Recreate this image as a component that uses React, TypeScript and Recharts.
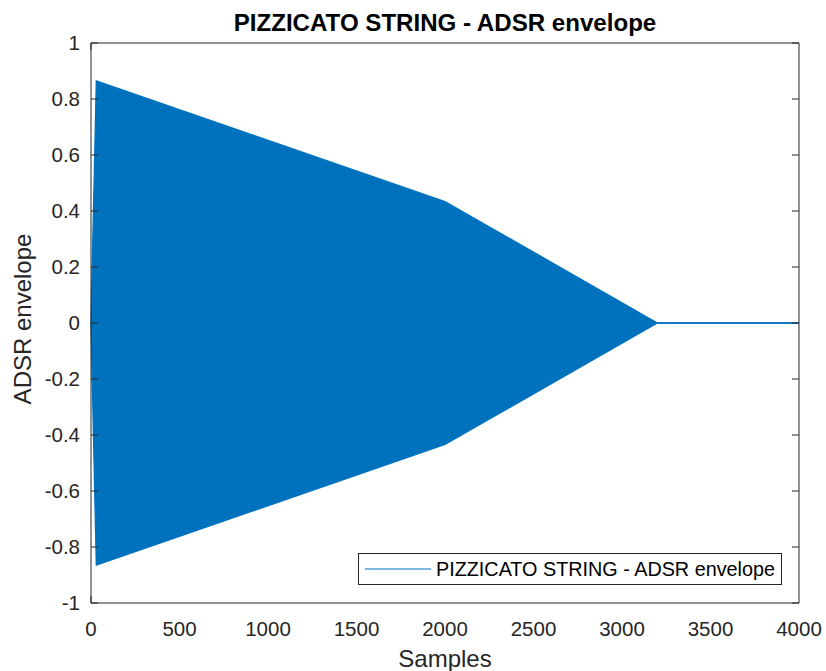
import React from 'react';
import { ComposedChart, Area, XAxis, YAxis, Legend } from 'recharts';

const SERIES_NAME = 'PIZZICATO STRING - ADSR envelope';
const TITLE = 'PIZZICATO STRING - ADSR envelope';
const X_LABEL = 'Samples';
const Y_LABEL = 'ADSR envelope';

// envelope of the dense oscillating signal (sample index, upper and lower extremes)
const SAMPLES = [0, 30, 2000, 3200, 4000];
const UPPER = [0, 0.865, 0.434, 0, 0];
const LOWER = [0, -0.865, -0.434, 0, 0];

const X_TICKS = [0, 500, 1000, 1500, 2000, 2500, 3000, 3500, 4000];
const Y_TICKS = [-1, -0.8, -0.6, -0.4, -0.2, 0, 0.2, 0.4, 0.6, 0.8, 1];

const data = SAMPLES.map((s, i) => ({ x: s, env: [LOWER[i], UPPER[i]] }));

const BLUE = '#0072BD';
const AXIS = '#262626';
const FONT = '"Liberation Sans", Arial, Helvetica, sans-serif';

const NoLabel = () => <g />;

const renderLegend = (props: any) => {
  const item = (props.payload && props.payload[0]) || { value: SERIES_NAME, color: BLUE };
  return (
    <div
      style={{
        width: 424,
        height: 32,
        boxSizing: 'border-box',
        border: `1px solid ${AXIS}`,
        background: '#fff',
        display: 'flex',
        alignItems: 'center',
        fontFamily: FONT,
        fontSize: 19.8,
        color: '#000',
      }}
    >
      <svg width={72} height={30} style={{ flex: 'none' }}>
        <line x1={6} x2={72} y1={15} y2={15} stroke={BLUE} strokeWidth={1.2} />
      </svg>
      <span style={{ marginLeft: 5, whiteSpace: 'nowrap' }}>{item.value}</span>
    </div>
  );
};

export default function App() {
  return (
    <div style={{ position: 'absolute', left: 0, top: 0, width: 826, height: 671, background: '#fff' }}>
      <ComposedChart
        width={826}
        height={671}
        data={data}
        margin={{ top: 43, right: 27, bottom: 28, left: 31 }}
        style={{ fontFamily: FONT }}
      >
        <XAxis
          xAxisId="b"
          dataKey="x"
          type="number"
          domain={[0, 4000]}
          ticks={X_TICKS}
          interval={0}
          height={40}
          tickLine={false}
          tickSize={0}
          tickMargin={18}
          axisLine={{ stroke: AXIS, strokeWidth: 1 }}
          tick={{ fill: AXIS, fontSize: 20.5, fontFamily: FONT }}
        />
        <XAxis
          xAxisId="bm"
          type="number"
          domain={[0, 4000]}
          allowDataOverflow
          ticks={X_TICKS}
          interval={0}
          orientation="bottom"
          mirror
          tick={NoLabel}
          tickSize={7}
          tickLine={{ stroke: AXIS, strokeWidth: 1 }}
          axisLine={false}
        />
        <XAxis
          xAxisId="t"
          type="number"
          domain={[0, 4000]}
          allowDataOverflow
          ticks={X_TICKS}
          interval={0}
          orientation="top"
          mirror
          tick={NoLabel}
          tickSize={7}
          tickLine={{ stroke: AXIS, strokeWidth: 1 }}
          axisLine={{ stroke: AXIS, strokeWidth: 1 }}
        />
        <YAxis
          yAxisId="l"
          type="number"
          domain={[-1, 1]}
          ticks={Y_TICKS}
          interval={0}
          width={60}
          tickLine={false}
          tickSize={0}
          tickMargin={11}
          axisLine={{ stroke: AXIS, strokeWidth: 1 }}
          tick={{ fill: AXIS, fontSize: 20.5, fontFamily: FONT }}
          tickFormatter={(v: number) => String(v)}
        />
        <YAxis
          yAxisId="lm"
          type="number"
          domain={[-1, 1]}
          allowDataOverflow
          ticks={Y_TICKS}
          interval={0}
          orientation="left"
          mirror
          tick={NoLabel}
          tickSize={7}
          tickLine={{ stroke: AXIS, strokeWidth: 1 }}
          axisLine={false}
        />
        <YAxis
          yAxisId="r"
          type="number"
          domain={[-1, 1]}
          allowDataOverflow
          ticks={Y_TICKS}
          interval={0}
          orientation="right"
          mirror
          tick={NoLabel}
          tickSize={7}
          tickLine={{ stroke: AXIS, strokeWidth: 1 }}
          axisLine={{ stroke: AXIS, strokeWidth: 1 }}
        />
        <Area
          xAxisId="b"
          yAxisId="l"
          dataKey="env"
          name={SERIES_NAME}
          type="linear"
          fill={BLUE}
          fillOpacity={1}
          stroke={BLUE}
          strokeWidth={1.3}
          dot={false}
          activeDot={false}
          isAnimationActive={false}
        />
        <Legend
          layout="vertical"
          align="center"
          verticalAlign="middle"
          content={renderLegend}
          wrapperStyle={{ position: 'absolute', left: 358, top: 553, width: 424, height: 32 }}
        />
      </ComposedChart>
      <svg
        width={826}
        height={671}
        style={{ position: 'absolute', left: 0, top: 0, pointerEvents: 'none' }}
      >
        <text x={445} y={31} textAnchor="middle" fontFamily={FONT} fontWeight="bold" fontSize={24.1} fill="#000">
          {TITLE}
        </text>
        <text x={445} y={667} textAnchor="middle" fontFamily={FONT} fontSize={24} fill={AXIS}>
          {X_LABEL}
        </text>
        <text
          x={31}
          y={319}
          textAnchor="middle"
          fontFamily={FONT}
          fontSize={24}
          fill={AXIS}
          transform="rotate(-90, 31, 319)"
        >
          {Y_LABEL}
        </text>
      </svg>
    </div>
  );
}
